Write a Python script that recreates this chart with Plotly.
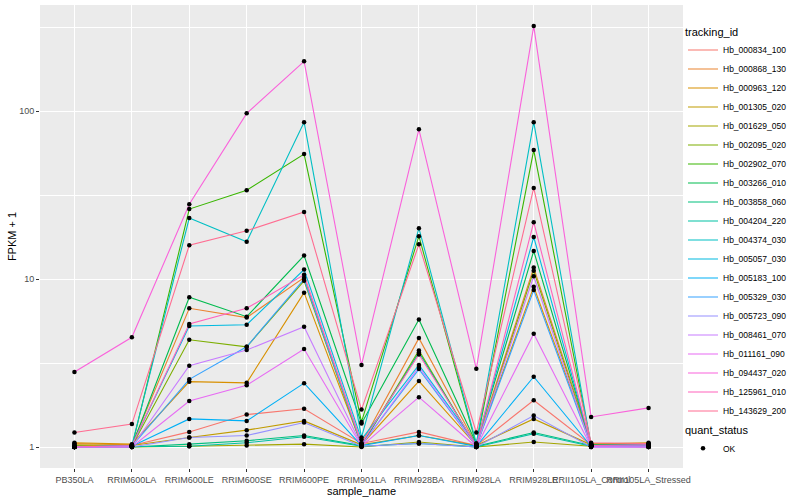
import plotly.graph_objects as go

samples = ["PB350LA", "RRIM600LA", "RRIM600LE", "RRIM600SE", "RRIM600PE", "RRIM901LA",
           "RRIM928BA", "RRIM928LA", "RRIM928LE", "RRII105LA_Control", "RRII105LA_Stressed"]

tracking_ids = ["Hb_000834_100", "Hb_000868_130", "Hb_000963_120", "Hb_001305_020", "Hb_001629_050",
                "Hb_002095_020", "Hb_002902_070", "Hb_003266_010", "Hb_003858_060", "Hb_004204_220",
                "Hb_004374_030", "Hb_005057_030", "Hb_005183_100", "Hb_005329_030", "Hb_005723_090",
                "Hb_008461_070", "Hb_011161_090", "Hb_094437_020", "Hb_125961_010", "Hb_143629_200"]

colors = ["#F8766D", "#EA8331", "#D89000", "#C09B00", "#A3A500", "#7CAE00", "#39B600", "#00BB4E",
          "#00BF7D", "#00C1A3", "#00BFC4", "#00BAE0", "#00B0F6", "#35A2FF", "#9590FF", "#C77CFF",
          "#E76BF3", "#FA62DB", "#FF62BC", "#FF6C91"]

# FPKM + 1 per tracking_id, one value per sample
hb_000834_100 = [1.01, 1.02, 1.23, 1.56, 1.69, 1.05, 1.23, 1.02, 1.90, 1.03, 1.02]
hb_000868_130 = [1.05, 1.03, 6.70, 5.90, 10.2, 1.05, 4.45, 1.03, 11.7, 1.05, 1.04]
hb_000963_120 = [1.06, 1.04, 2.45, 2.41, 8.30, 1.03, 2.47, 1.02, 9.00, 1.04, 1.06]
hb_001305_020 = [1.03, 1.02, 1.14, 1.26, 1.43, 1.03, 1.17, 1.02, 1.47, 1.03, 1.04]
hb_001629_050 = [1.02, 1.00, 1.01, 1.02, 1.04, 1.00, 1.07, 1.00, 1.07, 1.01, 1.00]
hb_002095_020 = [1.00, 1.01, 4.35, 3.95, 9.76, 1.02, 3.76, 1.00, 11.2, 1.02, 1.03]
hb_002902_070 = [1.00, 1.00, 26.1, 33.8, 55.5, 1.41, 18.0, 1.03, 58.6, 1.02, 1.02]
hb_003266_010 = [1.00, 1.01, 7.80, 5.97, 13.8, 1.38, 5.75, 1.05, 14.7, 1.03, 1.03]
hb_003858_060 = [1.01, 1.00, 1.04, 1.09, 1.17, 1.02, 3.66, 1.01, 1.22, 1.02, 1.02]
hb_004204_220 = [1.00, 1.01, 1.01, 1.06, 1.15, 1.01, 1.05, 1.00, 1.20, 1.01, 1.01]
hb_004374_030 = [1.00, 1.02, 23.1, 16.7, 86.0, 1.14, 20.1, 1.05, 86.0, 1.02, 1.02]
hb_005057_030 = [1.00, 1.02, 5.25, 5.35, 11.4, 1.11, 3.08, 1.04, 17.8, 1.02, 1.03]
hb_005183_100 = [1.00, 1.01, 1.47, 1.43, 2.40, 1.02, 1.17, 1.01, 2.62, 1.01, 1.01]
hb_005329_030 = [1.00, 1.01, 2.53, 3.95, 10.0, 1.03, 2.91, 1.01, 8.60, 1.01, 1.02]
hb_005723_090 = [1.00, 1.00, 1.14, 1.17, 1.40, 1.01, 1.05, 1.00, 1.54, 1.00, 1.00]
hb_008461_070 = [1.00, 1.00, 3.05, 3.78, 5.20, 1.02, 3.00, 1.01, 10.4, 1.00, 1.00]
hb_011161_090 = [1.00, 1.00, 1.88, 2.33, 3.83, 1.01, 1.98, 1.00, 4.72, 1.00, 1.00]
hb_094437_020 = [2.80, 4.50, 27.9, 97.0, 198.0, 3.08, 78.0, 2.92, 321.0, 1.51, 1.71]
hb_125961_010 = [1.00, 1.02, 5.40, 6.70, 10.6, 1.05, 3.56, 1.02, 21.8, 1.02, 1.03]
hb_143629_200 = [1.22, 1.37, 15.9, 19.4, 25.1, 1.67, 16.1, 1.22, 34.9, 1.06, 1.05]

series = [hb_000834_100, hb_000868_130, hb_000963_120, hb_001305_020, hb_001629_050,
          hb_002095_020, hb_002902_070, hb_003266_010, hb_003858_060, hb_004204_220,
          hb_004374_030, hb_005057_030, hb_005183_100, hb_005329_030, hb_005723_090,
          hb_008461_070, hb_011161_090, hb_094437_020, hb_125961_010, hb_143629_200]

FONT = "Liberation Sans, Arial, sans-serif"

fig = go.Figure()
for name, vals, col in zip(tracking_ids, series, colors):
    fig.add_trace(go.Scatter(x=samples, y=vals, mode="lines", name=name,
                             line=dict(color=col, width=1.1), legend="legend"))

px_all, py_all = [], []
for vals in series:
    px_all.extend(samples)
    py_all.extend(vals)
fig.add_trace(go.Scatter(x=px_all, y=py_all, mode="markers", name="OK",
                         marker=dict(color="black", size=4.5, symbol="circle"),
                         legend="legend2"))

fig.update_layout(
    width=800, height=500,
    margin=dict(l=40, r=117, t=5, b=32, autoexpand=False),
    paper_bgcolor="white", plot_bgcolor="#EBEBEB",
    font=dict(family=FONT, size=9, color="#4D4D4D"),
    xaxis=dict(type="category", range=[-0.6, 10.6], showgrid=True, gridcolor="white",
               gridwidth=1.1, ticks="outside", ticklen=3, tickcolor="#333333", tickangle=0,
               tickfont=dict(size=9, color="#4D4D4D"), zeroline=False, showline=False,
               automargin=False,
               title=dict(text="sample_name", font=dict(size=11, color="black"), standoff=0)),
    yaxis=dict(type="log", range=[-0.125, 2.632], tickvals=[1, 10, 100], ticktext=["1", "10", "100"],
               showgrid=True, gridcolor="white", gridwidth=1.1, ticks="outside", ticklen=3,
               tickcolor="#333333", tickfont=dict(size=9, color="#4D4D4D"), zeroline=False,
               automargin=False,
               minor=dict(tickvals=[10 ** 0.5, 10 ** 1.5, 10 ** 2.5], showgrid=True,
                          gridcolor="white", gridwidth=0.5, ticks=""),
               title=dict(text="FPKM + 1", font=dict(size=11, color="black"), standoff=0)),
    legend=dict(title=dict(text="tracking_id", font=dict(size=11, color="black")),
                x=1.0, xanchor="left", y=0.965, yanchor="top",
                font=dict(size=8.5, color="black"), bgcolor="rgba(0,0,0,0)",
                tracegroupgap=0, itemwidth=30),
    legend2=dict(title=dict(text="quant_status", font=dict(size=11, color="black")),
                 x=1.0, xanchor="left", y=0.105, yanchor="top",
                 font=dict(size=8.5, color="black"), bgcolor="rgba(0,0,0,0)", itemwidth=30),
)

fig.write_html("out.html", config={"displayModeBar": False},
               post_script="document.body.style.margin='0px';")
